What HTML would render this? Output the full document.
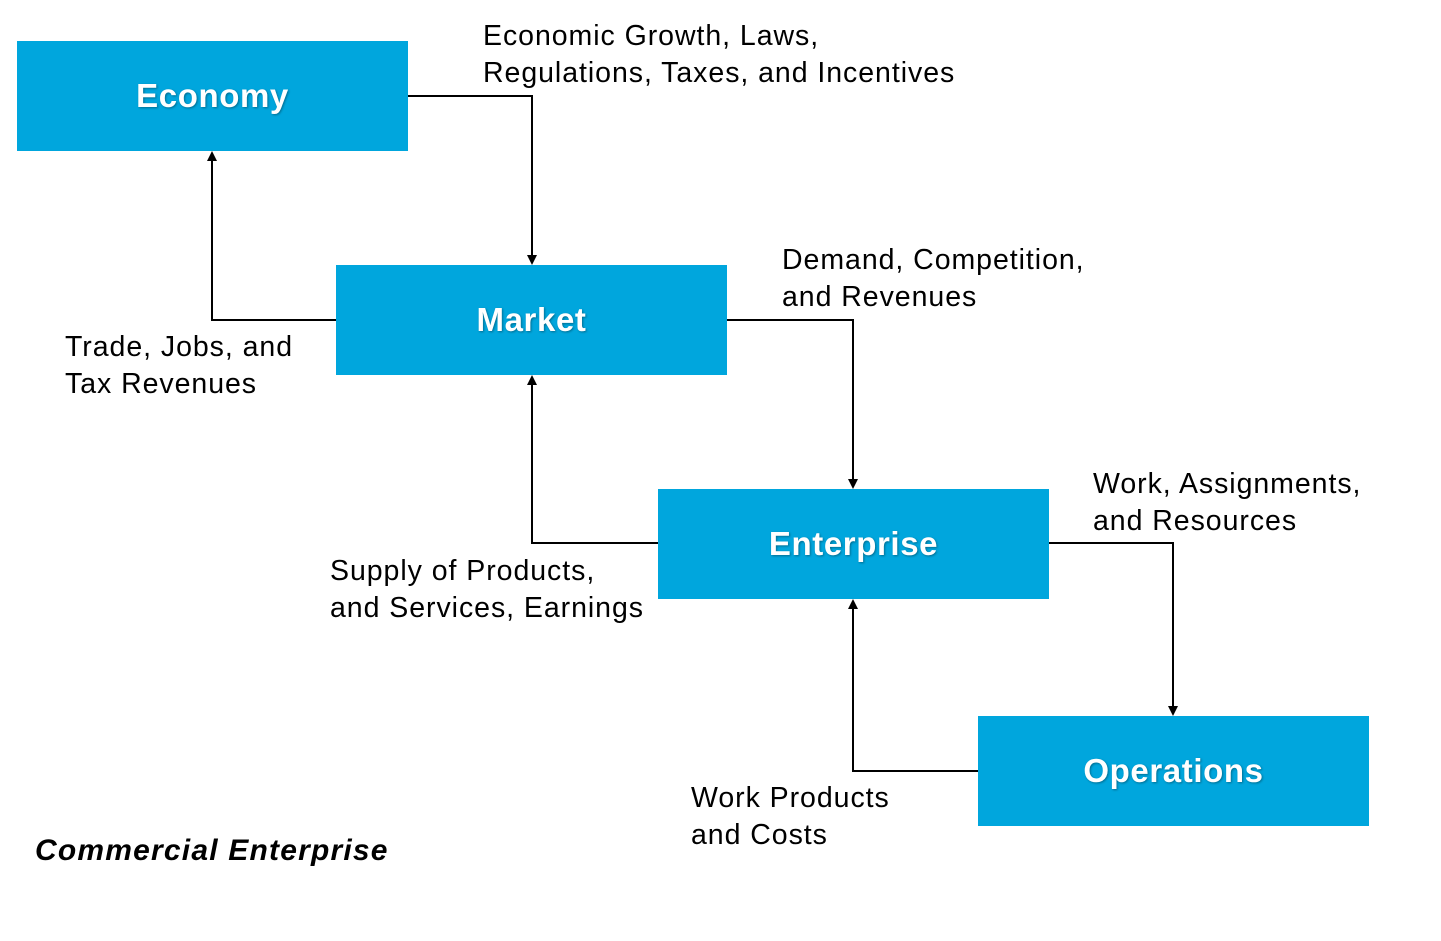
<!DOCTYPE html>
<html><head><style>
body{margin:0;width:1441px;height:941px;background:#fff;position:relative;overflow:hidden;font-family:"Liberation Sans",Arial,sans-serif}
.b{position:absolute;background:#00a6dd;width:391px;height:110px;color:#fff;font-weight:bold;font-size:33px;letter-spacing:0.6px;display:flex;align-items:center;justify-content:center;text-shadow:1px 1px 2px rgba(0,0,0,.35)}
.t{position:absolute;font-size:28.5px;letter-spacing:0.95px;line-height:37px;color:#000;white-space:nowrap}
</style></head><body>
<svg width="1441" height="941" style="position:absolute;left:0;top:0">
<g fill="none" stroke="#000" stroke-width="2">
<polyline points="408,96 532,96 532,256"/>
<polyline points="336,320 212,320 212,160"/>
<polyline points="727,320 853,320 853,480"/>
<polyline points="658,543 532,543 532,384"/>
<polyline points="1049,543 1173,543 1173,707"/>
<polyline points="978,771 853,771 853,608"/>
</g>
<g fill="#000">
<path d="M527,255 L537,255 L532,265 Z"/>
<path d="M207,161 L217,161 L212,151 Z"/>
<path d="M848,479 L858,479 L853,489 Z"/>
<path d="M527,385 L537,385 L532,375 Z"/>
<path d="M1168,706 L1178,706 L1173,716 Z"/>
<path d="M848,609 L858,609 L853,599 Z"/>
</g>
</svg>
<div class="b" style="left:17px;top:41px">Economy</div>
<div class="b" style="left:336px;top:265px">Market</div>
<div class="b" style="left:658px;top:489px">Enterprise</div>
<div class="b" style="left:978px;top:716px">Operations</div>
<div class="t" style="left:483px;top:18px">Economic Growth, Laws,<br>Regulations, Taxes, and Incentives</div>
<div class="t" style="left:782px;top:242px">Demand, Competition,<br>and Revenues</div>
<div class="t" style="left:65px;top:329px">Trade, Jobs, and<br>Tax Revenues</div>
<div class="t" style="left:1093px;top:466px">Work, Assignments,<br>and Resources</div>
<div class="t" style="left:330px;top:553px">Supply of Products,<br>and Services, Earnings</div>
<div class="t" style="left:691px;top:780px">Work Products<br>and Costs</div>
<div class="t" style="left:35px;top:832px;font-weight:bold;font-style:italic;font-size:30px;letter-spacing:1.2px">Commercial Enterprise</div>
</body></html>
